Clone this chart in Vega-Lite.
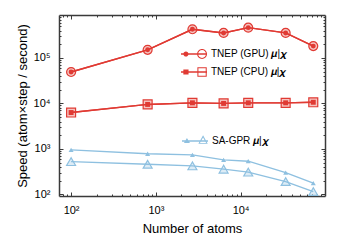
{
  "$schema": "https://vega.github.io/schema/vega-lite/v6.json",
  "width": 266,
  "height": 181,
  "autosize": {"type": "none"},
  "padding": {"left": 59, "top": 15, "right": 15, "bottom": 54},
  "config": {
    "font": "Liberation Sans",
    "view": {"stroke": null},
    "axis": {
      "grid": false,
      "domainColor": "#3a3a3a",
      "domainWidth": 1.5,
      "tickColor": "#3a3a3a",
      "tickWidth": 1,
      "labelFont": "Liberation Sans",
      "labelFontSize": 11,
      "labelColor": "#000000",
      "titleFont": "Liberation Sans",
      "titleFontSize": 13,
      "titleFontWeight": "normal",
      "titleColor": "#000000",
      "labelOverlap": false,
      "labelFlush": false
    },
    "legend": {"labelFont": "Liberation Sans", "labelFontSize": 10, "labelColor": "#000000", "labelLimit": 300}
  },
  "data": {
    "values": [
      {"atoms": 100, "speed": 49000, "method": "GPU", "target": "mu"},
      {"atoms": 800, "speed": 151000, "method": "GPU", "target": "mu"},
      {"atoms": 2700, "speed": 427000, "method": "GPU", "target": "mu"},
      {"atoms": 6300, "speed": 355000, "method": "GPU", "target": "mu"},
      {"atoms": 12300, "speed": 464000, "method": "GPU", "target": "mu"},
      {"atoms": 34000, "speed": 355000, "method": "GPU", "target": "mu"},
      {"atoms": 72000, "speed": 182000, "method": "GPU", "target": "mu"},
      {"atoms": 100, "speed": 49000, "method": "GPU", "target": "chi"},
      {"atoms": 800, "speed": 151000, "method": "GPU", "target": "chi"},
      {"atoms": 2700, "speed": 427000, "method": "GPU", "target": "chi"},
      {"atoms": 6300, "speed": 355000, "method": "GPU", "target": "chi"},
      {"atoms": 12300, "speed": 464000, "method": "GPU", "target": "chi"},
      {"atoms": 34000, "speed": 355000, "method": "GPU", "target": "chi"},
      {"atoms": 72000, "speed": 182000, "method": "GPU", "target": "chi"},
      {"atoms": 100, "speed": 6300, "method": "CPU", "target": "mu"},
      {"atoms": 800, "speed": 9500, "method": "CPU", "target": "mu"},
      {"atoms": 2700, "speed": 10300, "method": "CPU", "target": "mu"},
      {"atoms": 6300, "speed": 10000, "method": "CPU", "target": "mu"},
      {"atoms": 12300, "speed": 10300, "method": "CPU", "target": "mu"},
      {"atoms": 34000, "speed": 10300, "method": "CPU", "target": "mu"},
      {"atoms": 72000, "speed": 10600, "method": "CPU", "target": "mu"},
      {"atoms": 100, "speed": 6300, "method": "CPU", "target": "chi"},
      {"atoms": 800, "speed": 9500, "method": "CPU", "target": "chi"},
      {"atoms": 2700, "speed": 10300, "method": "CPU", "target": "chi"},
      {"atoms": 6300, "speed": 10000, "method": "CPU", "target": "chi"},
      {"atoms": 12300, "speed": 10300, "method": "CPU", "target": "chi"},
      {"atoms": 34000, "speed": 10300, "method": "CPU", "target": "chi"},
      {"atoms": 72000, "speed": 10600, "method": "CPU", "target": "chi"},
      {"atoms": 100, "speed": 950, "method": "SA", "target": "mu"},
      {"atoms": 800, "speed": 783, "method": "SA", "target": "mu"},
      {"atoms": 2700, "speed": 738, "method": "SA", "target": "mu"},
      {"atoms": 6300, "speed": 573, "method": "SA", "target": "mu"},
      {"atoms": 12300, "speed": 536, "method": "SA", "target": "mu"},
      {"atoms": 34000, "speed": 301, "method": "SA", "target": "mu"},
      {"atoms": 72000, "speed": 176, "method": "SA", "target": "mu"},
      {"atoms": 100, "speed": 525, "method": "SA", "target": "chi"},
      {"atoms": 800, "speed": 460, "method": "SA", "target": "chi"},
      {"atoms": 2700, "speed": 423, "method": "SA", "target": "chi"},
      {"atoms": 6300, "speed": 358, "method": "SA", "target": "chi"},
      {"atoms": 12300, "speed": 308, "method": "SA", "target": "chi"},
      {"atoms": 34000, "speed": 191, "method": "SA", "target": "chi"},
      {"atoms": 72000, "speed": 115, "method": "SA", "target": "chi"}
    ]
  },
  "resolve": {
    "scale": {"color": "independent", "size": "independent"},
    "axis": {"x": "independent", "y": "independent"}
  },
  "layer": [
    {
      "mark": {"type": "line", "strokeWidth": 1.4},
      "encoding": {
        "x": {
          "field": "atoms", "type": "quantitative",
          "scale": {"type": "log", "domain": [72, 99000], "nice": false},
          "axis": {
            "orient": "bottom",
            "title": "Number of atoms",
            "values": [80, 90, 100, 200, 300, 400, 500, 600, 700, 800, 900, 1000, 2000, 3000, 4000, 5000, 6000, 7000, 8000, 9000, 10000, 20000, 30000, 40000, 50000, 60000, 70000, 80000, 90000],
            "labelExpr": "datum.value == 100 ? '10²' : datum.value == 1000 ? '10³' : datum.value == 10000 ? '10⁴' : ''",
            "tickSize": {"condition": {"test": "datum.value == 100 || datum.value == 1000 || datum.value == 10000", "value": -4}, "value": -2},
            "labelPadding": 12,
            "titlePadding": 5
          }
        },
        "y": {
          "field": "speed", "type": "quantitative",
          "scale": {"type": "log", "domain": [92, 880000], "nice": false},
          "axis": {
            "orient": "left",
            "title": "Speed (atom×step / second)",
            "values": [100, 200, 300, 400, 500, 600, 700, 800, 900, 1000, 2000, 3000, 4000, 5000, 6000, 7000, 8000, 9000, 10000, 20000, 30000, 40000, 50000, 60000, 70000, 80000, 90000, 100000, 200000, 300000, 400000, 500000, 600000, 700000, 800000],
            "labelExpr": "datum.value == 100 ? '10²' : datum.value == 1000 ? '10³' : datum.value == 10000 ? '10⁴' : datum.value == 100000 ? '10⁵' : ''",
            "tickSize": {"condition": {"test": "datum.value == 100 || datum.value == 1000 || datum.value == 10000 || datum.value == 100000", "value": -4}, "value": -2},
            "labelPadding": 13,
            "titlePadding": 4
          }
        },
        "stroke": {"field": "method", "type": "nominal", "scale": {"domain": ["GPU", "CPU", "SA"], "range": ["#e03a33", "#e03a33", "#8ec0e0"]}, "legend": null},
        "detail": {"field": "target"}
      }
    },
    {
      "transform": [{"filter": "datum.target == 'chi'"}],
      "mark": {"type": "point", "filled": false, "strokeWidth": 1.2, "fillOpacity": 0.3, "opacity": 1},
      "encoding": {
        "x": {"field": "atoms", "type": "quantitative", "scale": {"type": "log", "domain": [72, 99000], "nice": false}, "axis": null},
        "y": {"field": "speed", "type": "quantitative", "scale": {"type": "log", "domain": [92, 880000], "nice": false}, "axis": null},
        "stroke": {"field": "method", "type": "nominal", "scale": {"domain": ["GPU", "CPU", "SA"], "range": ["#e03a33", "#e03a33", "#8ec0e0"]}, "legend": null},
        "fill": {"field": "method", "type": "nominal", "scale": {"domain": ["GPU", "CPU", "SA"], "range": ["#e03a33", "#e03a33", "#8ec0e0"]}, "legend": null},
        "shape": {"field": "method", "type": "nominal", "scale": {"domain": ["GPU", "CPU", "SA"], "range": ["circle", "square", "triangle-up"]}, "legend": null},
        "size": {"field": "method", "type": "nominal", "scale": {"domain": ["GPU", "CPU", "SA"], "range": [80, 80, 100]}, "legend": null}
      }
    },
    {
      "transform": [{"filter": "datum.target == 'mu'"}],
      "mark": {"type": "point", "filled": true, "opacity": 1},
      "encoding": {
        "x": {"field": "atoms", "type": "quantitative", "scale": {"type": "log", "domain": [72, 99000], "nice": false}, "axis": null},
        "y": {"field": "speed", "type": "quantitative", "scale": {"type": "log", "domain": [92, 880000], "nice": false}, "axis": null},
        "fill": {"field": "method", "type": "nominal", "scale": {"domain": ["GPU", "CPU", "SA"], "range": ["#e03a33", "#e03a33", "#8ec0e0"]}, "legend": null},
        "shape": {"field": "method", "type": "nominal", "scale": {"domain": ["GPU", "CPU", "SA"], "range": ["circle", "square", "triangle-up"]}, "legend": null},
        "size": {"field": "method", "type": "nominal", "scale": {"domain": ["GPU", "CPU", "SA"], "range": [24, 25, 36]}, "legend": null}
      }
    },
    {
      "transform": [{"filter": "false"}],
      "mark": {"type": "point"},
      "encoding": {
        "x": {
          "field": "atoms", "type": "quantitative",
          "scale": {"type": "log", "domain": [72, 99000], "nice": false},
          "axis": {
            "orient": "top", "labels": false, "title": null,
            "values": [80, 90, 100, 200, 300, 400, 500, 600, 700, 800, 900, 1000, 2000, 3000, 4000, 5000, 6000, 7000, 8000, 9000, 10000, 20000, 30000, 40000, 50000, 60000, 70000, 80000, 90000],
            "tickSize": {"condition": {"test": "datum.value == 100 || datum.value == 1000 || datum.value == 10000", "value": -4}, "value": -2}
          }
        },
        "y": {
          "field": "speed", "type": "quantitative",
          "scale": {"type": "log", "domain": [92, 880000], "nice": false},
          "axis": {
            "orient": "right", "labels": false, "title": null,
            "values": [100, 200, 300, 400, 500, 600, 700, 800, 900, 1000, 2000, 3000, 4000, 5000, 6000, 7000, 8000, 9000, 10000, 20000, 30000, 40000, 50000, 60000, 70000, 80000, 90000, 100000, 200000, 300000, 400000, 500000, 600000, 700000, 800000],
            "tickSize": {"condition": {"test": "datum.value == 100 || datum.value == 1000 || datum.value == 10000 || datum.value == 100000", "value": -4}, "value": -2}
          }
        }
      }
    },
    {
      "transform": [{"filter": "false"}],
      "mark": {"type": "point", "filled": true, "opacity": 1},
      "encoding": {
        "color": {
          "field": "method", "type": "nominal",
          "scale": {"domain": ["TNEP (GPU) 𝝁|𝝌"], "range": ["#e03a33"]},
          "legend": {
            "orient": "none", "legendX": 122, "legendY": 26, "title": null, "padding": 0,
            "symbolType": "M-1,-0.05H1V0.05H-1Z M-0.82,0A0.2,0.2 0 1,1 -0.42,0A0.2,0.2 0 1,1 -0.82,0Z M0.24,0A0.38,0.38 0 1,1 1,0A0.38,0.38 0 1,1 0.24,0Z M0.32,0A0.3,0.3 0 1,0 0.92,0A0.3,0.3 0 1,0 0.32,0Z",
            "symbolSize": 676, "symbolStrokeWidth": 0, "symbolOpacity": 1, "labelOffset": 4
          }
        }
      }
    },
    {
      "transform": [{"filter": "false"}],
      "mark": {"type": "point", "filled": true, "opacity": 1},
      "encoding": {
        "color": {
          "field": "method", "type": "nominal",
          "scale": {"domain": ["TNEP (CPU) 𝝁|𝝌"], "range": ["#e03a33"]},
          "legend": {
            "orient": "none", "legendX": 122, "legendY": 44, "title": null, "padding": 0,
            "symbolType": "M-1,-0.05H1V0.05H-1Z M-0.82,-0.2H-0.42V0.2H-0.82Z M0.26,-0.36H0.98V0.36H0.26Z M0.34,-0.28V0.28H0.9V-0.28Z",
            "symbolSize": 676, "symbolStrokeWidth": 0, "symbolOpacity": 1, "labelOffset": 4
          }
        }
      }
    },
    {
      "transform": [{"filter": "false"}],
      "mark": {"type": "point", "filled": true, "opacity": 1},
      "encoding": {
        "color": {
          "field": "method", "type": "nominal",
          "scale": {"domain": ["SA-GPR 𝝁|𝝌"], "range": ["#8ec0e0"]},
          "legend": {
            "orient": "none", "legendX": 123, "legendY": 113, "title": null, "padding": 0,
            "symbolType": "M-1,-0.05H1V0.05H-1Z M-0.62,-0.24L-0.39,0.15L-0.85,0.15Z M0.62,-0.44L0.98,0.22L0.26,0.22Z M0.62,-0.27L0.383,0.16L0.857,0.16Z",
            "symbolSize": 676, "symbolStrokeWidth": 0, "symbolOpacity": 1, "labelOffset": 4
          }
        }
      }
    }
  ]
}
